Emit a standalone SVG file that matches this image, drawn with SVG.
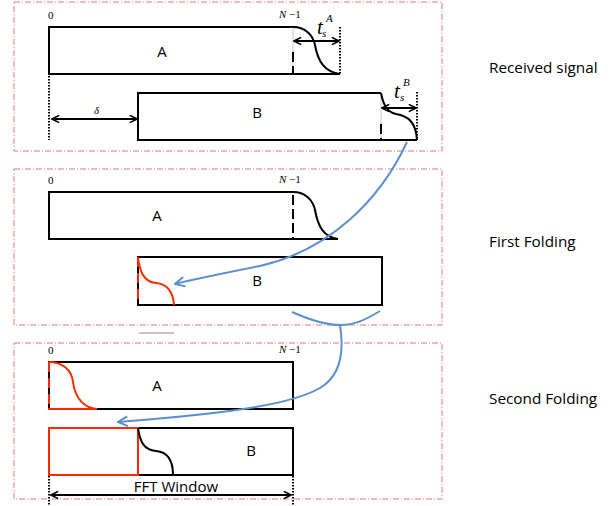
<svg xmlns="http://www.w3.org/2000/svg" width="613" height="506" viewBox="0 0 613 506">
<defs>
<style>
.frame{fill:none;stroke:#e07a7a;stroke-width:1;stroke-dasharray:6,2,1,2}
.box{fill:none;stroke:#000;stroke-width:2}
.rbox{fill:none;stroke:#ff2a00;stroke-width:2}
.ln{fill:none;stroke:#000;stroke-width:2}
.red{fill:none;stroke:#ff2a00;stroke-width:2}
.guide{stroke:#c8c8c8;stroke-width:1}
.dash{stroke:#000;stroke-width:2;stroke-dasharray:10,4}
.rdash{stroke:#ff2a00;stroke-width:2;stroke-dasharray:10,6}
.dot{stroke:#000;stroke-width:2;stroke-dasharray:1.5,1.5}
.dim{fill:none;stroke:#000;stroke-width:2;marker-start:url(#ah);marker-end:url(#ah)}
.blue{fill:none;stroke:#5b8fcf;stroke-width:2}
.lab{font-family:"Open Sans","Liberation Sans",sans-serif;font-size:15px;fill:#000}
.side{font-family:"Open Sans","Liberation Sans",sans-serif;font-size:15.3px;fill:#000}
.num{font-family:"Liberation Serif",serif;font-size:11px;fill:#000}
.it{font-family:"Liberation Serif",serif;font-style:italic;fill:#000}
</style>
<marker id="ah" viewBox="0 0 10 10" refX="9" refY="5" markerWidth="9" markerHeight="9" markerUnits="userSpaceOnUse" orient="auto-start-reverse">
<path d="M1,1 L9,5 L1,9" fill="none" stroke="#000" stroke-width="1.8"/>
</marker>
<marker id="bh" viewBox="0 0 10 10" refX="9" refY="5" markerWidth="12" markerHeight="12" markerUnits="userSpaceOnUse" orient="auto">
<path d="M1,1 L9,5 L1,9" fill="none" stroke="#5b8fcf" stroke-width="1.6"/>
</marker>
</defs>
<rect width="613" height="506" fill="#fff"/>

<g id="panel-received">
<rect class="frame" x="14" y="2" width="428" height="149"/>
<text class="num" x="48" y="19">0</text>
<text class="num" x="279" y="18"><tspan font-style="italic">N</tspan> −1</text>
<g id="rx-A">
<path class="box" d="M293,27 H49 V74 H340"/>
<line class="guide" x1="293" y1="27" x2="293" y2="74"/>
<line class="dash" x1="293" y1="52" x2="293" y2="74"/>
<path class="ln" d="M293,27 C305,27 313,35 315,45 C318,62 325,72 340,74"/>
<line class="dot" x1="340" y1="27" x2="340" y2="74"/>
<text class="lab" x="162" y="57" text-anchor="middle">A</text>
</g>
<g id="rx-tsA">
<line class="dim" x1="294" y1="41" x2="339" y2="41"/>
<text class="it" x="317" y="34" font-size="21">t</text>
<text class="it" x="322" y="37" font-size="11">s</text>
<text class="it" x="326" y="22" font-size="11">A</text>
</g>
<g id="rx-B">
<path class="box" d="M381,93 H138 V140 H417"/>
<line class="guide" x1="381" y1="93" x2="381" y2="140"/>
<line class="dash" x1="381" y1="124" x2="381" y2="140"/>
<path class="ln" d="M381,93 C383,103 386,112 396,114 C408,116 416,122 417,140"/>
<line class="dot" x1="417" y1="92" x2="417" y2="140"/>
<text class="lab" x="257" y="118" text-anchor="middle">B</text>
</g>
<g id="rx-tsB">
<line class="dim" x1="382" y1="108" x2="416" y2="108"/>
<text class="it" x="394" y="98" font-size="21">t</text>
<text class="it" x="400" y="101" font-size="11">s</text>
<text class="it" x="403" y="86" font-size="11">B</text>
</g>
<g id="rx-delta">
<line class="dot" x1="49" y1="76" x2="49" y2="140"/>
<line class="dim" x1="52" y1="119" x2="137" y2="119"/>
<text class="it" x="94" y="114" font-size="11">δ</text>
</g>
<text class="side" x="489" y="73">Received signal</text>
</g>

<g id="panel-first">
<rect class="frame" x="14" y="169" width="428" height="156"/>
<text class="num" x="48" y="184">0</text>
<text class="num" x="279" y="183"><tspan font-style="italic">N</tspan> −1</text>
<g id="f1-A">
<path class="box" d="M293,192 H49 V239 H338"/>
<line class="dash" x1="293" y1="195" x2="293" y2="239"/>
<path class="ln" d="M293,192 C305,192 313,200 315,210 C318,227 324,237 338,239"/>
<text class="lab" x="157" y="221" text-anchor="middle">A</text>
</g>
<g id="f1-B">
<rect class="box" x="138" y="257" width="244" height="48"/>
<line class="rdash" x1="138" y1="257" x2="138" y2="305"/>
<path class="red" d="M138,258 C140,272 144,282 156,283 C168,284 173,292 174,305"/>
<text class="lab" x="257" y="286" text-anchor="middle">B</text>
</g>
<text class="side" x="489" y="247">First Folding</text>
</g>

<line x1="139" y1="333" x2="174" y2="333" stroke="#c4c4c4" stroke-width="2"/>

<g id="panel-second">
<rect class="frame" x="14" y="343" width="428" height="156"/>
<text class="num" x="48" y="354">0</text>
<text class="num" x="279" y="353"><tspan font-style="italic">N</tspan> −1</text>
<g id="f2-A">
<rect class="box" x="49" y="362" width="244" height="47"/>
<line class="rdash" x1="49" y1="362" x2="49" y2="409"/>
<line class="red" x1="48" y1="409" x2="97" y2="409"/>
<path class="red" d="M49,362 C62,362 72,370 73,382 C75,398 84,408 97,409"/>
<text class="lab" x="157" y="391" text-anchor="middle">A</text>
</g>
<g id="f2-B">
<rect class="box" x="49" y="428" width="244" height="47"/>
<rect class="rbox" x="49" y="428" width="89" height="47"/>
<path class="ln" d="M138,428 C140,442 144,450 156,451 C168,452 173,460 173,475"/>
<text class="lab" x="251" y="456" text-anchor="middle">B</text>
</g>
<g id="fft-window">
<line class="dot" x1="49" y1="476" x2="49" y2="506"/>
<line class="dot" x1="293" y1="476" x2="293" y2="506"/>
<line class="dim" x1="51" y1="495" x2="291" y2="495"/>
<text class="lab" x="176" y="492" text-anchor="middle" font-size="16">FFT Window</text>
</g>
<text class="side" x="489" y="404">Second Folding</text>
</g>

<g id="connectors">
<path class="blue" marker-end="url(#bh)" d="M407,142 C380,200 330,250 260,266 C220,274 195,279 175,284"/>
<path class="blue" d="M292,312 C310,320 325,325 340,325 C355,325 365,320 380,311"/>
<path class="blue" marker-end="url(#bh)" d="M340,325 C344,350 342,375 320,388 C290,405 230,413 118,422"/>
</g>
</svg>
